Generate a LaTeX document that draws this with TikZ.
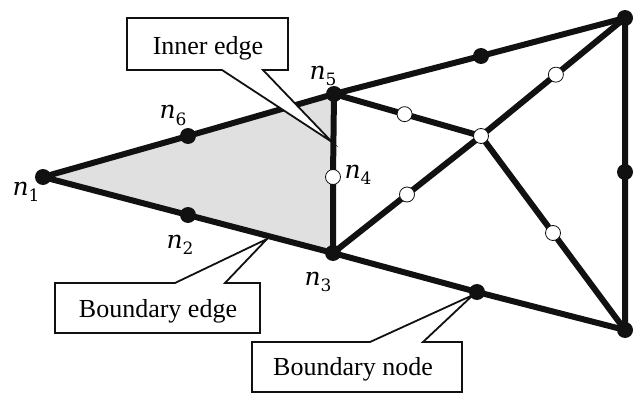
\documentclass[tikz,border=0pt]{standalone}
\usepackage{fontspec}
\setmainfont{Liberation Serif}
\newfontfamily\lblfont{DejaVu Serif}
\usetikzlibrary{calc}
\pgfdeclarelayer{bg}\pgfdeclarelayer{mid}\pgfsetlayers{bg,mid,main}
\definecolor{areagray}{HTML}{E0E0E0}
\definecolor{ink}{HTML}{111111}
\newcommand{\nlab}[1]{{\lblfont\itshape n}\raisebox{-6pt}{\lblfont\fontsize{17}{18}\selectfont #1}}
\begin{document}
\begin{tikzpicture}[x=1pt,y=-1pt,
  bnode/.style={circle,fill=ink,inner sep=0pt,minimum size=16pt},
  wnode/.style={circle,draw=ink,fill=white,line width=0.8pt,inner sep=0pt,minimum size=15pt},
  edge/.style={line width=6pt,draw=ink,line join=round},
  callout/.style={draw=ink,fill=white,line width=1.8pt,line join=miter},
  lbl/.style={font=\fontsize{25}{28}\selectfont,anchor=base,inner sep=0pt},
  ctext/.style={font=\fontsize{26}{30}\selectfont,anchor=base}]
\useasboundingbox (0,0) rectangle (638,396);
% graph nodes
\node[bnode] (n1) at (43,177) {};
\node[bnode] (n6) at (188,136) {};
\node[bnode] (n5) at (334,94) {};
\node[bnode] (tm) at (481,56) {};
\node[bnode] (tr) at (625,18) {};
\node[bnode] (rm) at (625,172) {};
\node[bnode] (br) at (625,330) {};
\node[bnode] (bn) at (477,292) {};
\node[bnode] (n3) at (333,253) {};
\node[bnode] (n2) at (188,215) {};
\node[wnode] (n4) at (333,177) {};
\node[wnode] (c) at (481,136) {};
\node[wnode] (a) at ($(n5)!0.48!(c)$) {};
\node[wnode] (b) at ($(n3)!0.5!(c)$) {};
\node[wnode] (d) at ($(c)!0.52!(tr)$) {};
\node[wnode] (e) at ($(c)!0.5!(br)$) {};
% edges
\begin{pgfonlayer}{bg}
\fill[areagray] (n1.center) -- (n5.center) -- (n3.center) -- cycle;
\draw[edge] (n1.center) -- (n6.center) -- (n5.center) -- (tm.center) -- (tr.center)
  -- (rm.center) -- (br.center) -- (bn.center) -- (n3.center) -- (n2.center) -- cycle;
\draw[edge] (n5.center) -- (n4.center) -- (n3.center);
\draw[edge] (n5.center) -- (a.center) -- (c.center) -- (d.center) -- (tr.center);
\draw[edge] (n3.center) -- (b.center) -- (c.center) -- (e.center) -- (br.center);
\end{pgfonlayer}
% callouts
\coordinate (tipA) at (332,142);
\coordinate (tipB) at (267,239);
\coordinate (tipC) at (473,295);
\begin{pgfonlayer}{mid}
\draw[callout] (127,18) -- (288,18) -- (288,70) -- (263,70) -- (tipA) -- (222,70) -- (127,70) -- cycle;
\draw[callout] (55,283) -- (175,283) -- (tipB) -- (225,283) -- (260,283) -- (260,333) -- (55,333) -- cycle;
\draw[callout] (252,342) -- (370,342) -- (tipC) -- (423,342) -- (462,342) -- (462,392) -- (252,392) -- cycle;
\end{pgfonlayer}
\node[ctext] (tie) at (208,55) {Inner edge};
\node[ctext] (tbe) at (158,317) {Boundary edge};
\node[ctext] (tbn) at (353,375) {Boundary node};
% labels
\node[lbl] (l1) at (26,195) {\nlab{1}};
\node[lbl] (l6) at (173,119) {\nlab{6}};
\node[lbl] (l5) at (323,80) {\nlab{5}};
\node[lbl] (l4) at (358,178) {\nlab{4}};
\node[lbl] (l2) at (180,248) {\nlab{2}};
\node[lbl] (l3) at (318,285) {\nlab{3}};
\end{tikzpicture}
\end{document}
